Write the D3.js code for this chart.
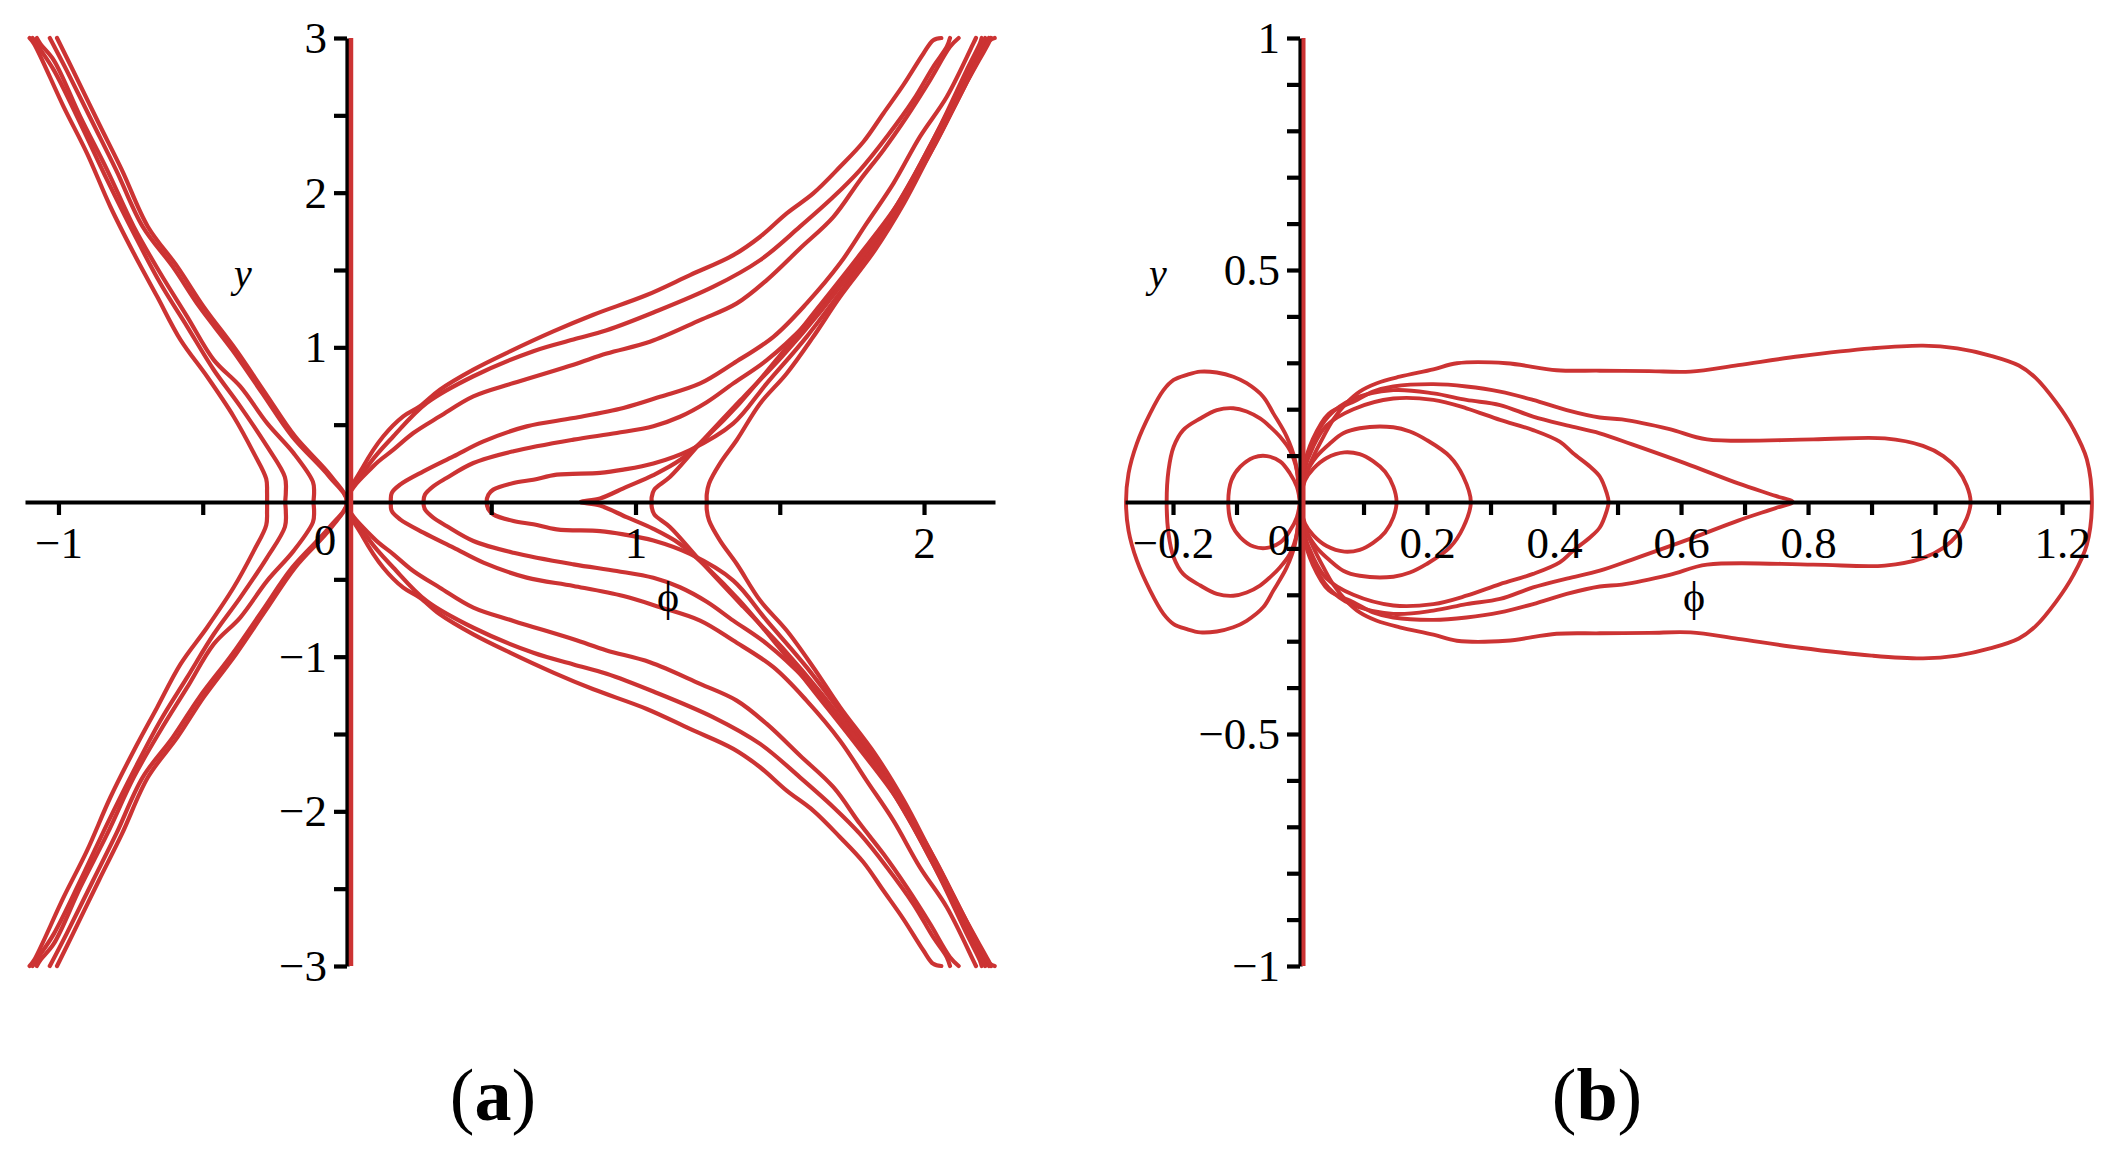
<!DOCTYPE html>
<html><head><meta charset="utf-8">
<script src="https://cdn.jsdelivr.net/npm/d3@7"></script>
<style>body{margin:0;background:#fff}svg{display:block}</style>
</head><body><svg id="c" width="2118" height="1157"></svg>
<script>
// ---------- Panel (a) data: level curves, [phi, y] ----------
const aR1 = [[2.06,3.0],[2.032,2.986],[1.998,2.9],[1.928,2.695],[1.859,2.512],[1.79,2.329],[1.709,2.167],[1.616,1.995],[1.524,1.866],[1.432,1.715],[1.339,1.596],[1.189,1.467],[1.039,1.338],[0.854,1.211],[0.715,1.103],[0.565,0.974],[0.438,0.856],[0.322,0.726],[0.253,0.619],[0.195,0.554],[0.126,0.425],[0.057,0.231],[0,0],
  [0.057,-0.231],[0.126,-0.425],[0.195,-0.554],[0.253,-0.619],[0.322,-0.726],[0.438,-0.856],[0.565,-0.974],[0.715,-1.103],[0.854,-1.211],[1.039,-1.338],[1.189,-1.467],[1.339,-1.596],[1.432,-1.715],[1.524,-1.866],[1.616,-1.995],[1.709,-2.167],[1.79,-2.329],[1.859,-2.512],[1.928,-2.695],[1.998,-2.9],[2.032,-2.986],[2.06,-3.0]];
const aR2 = [[2.09,3.0],[2.079,2.943],[2.032,2.814],[1.963,2.599],[1.871,2.361],[1.778,2.146],[1.686,1.973],[1.57,1.78],[1.432,1.564],[1.27,1.392],[1.062,1.225],[0.9,1.11],[0.785,1.05],[0.646,0.975],[0.438,0.813],[0.276,0.64],[0.161,0.425],[0.08,0.252],[0,0],
  [0.08,-0.252],[0.161,-0.425],[0.276,-0.64],[0.438,-0.813],[0.646,-0.975],[0.785,-1.05],[0.9,-1.11],[1.062,-1.225],[1.27,-1.392],[1.432,-1.564],[1.57,-1.78],[1.686,-1.973],[1.778,-2.146],[1.871,-2.361],[1.963,-2.599],[2.032,-2.814],[2.079,-2.943],[2.09,-3.0]];
const aR3 = [[2.12,3.0],[2.09,2.943],[2.021,2.728],[1.94,2.491],[1.859,2.275],[1.778,2.081],[1.686,1.844],[1.57,1.639],[1.455,1.435],[1.351,1.284],[1.224,1.176],[1.05,1.036],[0.9,0.96],[0.785,0.888],[0.577,0.769],[0.438,0.683],[0.322,0.554],[0.23,0.446],[0.161,0.338],[0.091,0.231],[0,0],
  [0.091,-0.231],[0.161,-0.338],[0.23,-0.446],[0.322,-0.554],[0.438,-0.683],[0.577,-0.769],[0.785,-0.888],[0.9,-0.96],[1.05,-1.036],[1.224,-1.176],[1.351,-1.284],[1.455,-1.435],[1.57,-1.639],[1.686,-1.844],[1.778,-2.081],[1.859,-2.275],[1.94,-2.491],[2.021,-2.728],[2.09,-2.943],[2.12,-3.0]];
const aR4 = [[2.18,3.0],[2.171,2.965],[2.079,2.62],[1.986,2.362],[1.894,2.06],[1.801,1.801],[1.709,1.543],[1.593,1.284],[1.478,1.068],[1.339,0.896],[1.224,0.767],[1.085,0.68],[0.958,0.608],[0.785,0.543],[0.623,0.489],[0.473,0.392],[0.369,0.295],[0.265,0.198],[0.184,0.112],[0.155,0.058],[0.152,0],
  [0.155,-0.058],[0.184,-0.112],[0.265,-0.198],[0.369,-0.295],[0.473,-0.392],[0.623,-0.489],[0.785,-0.543],[0.958,-0.608],[1.085,-0.68],[1.224,-0.767],[1.339,-0.896],[1.478,-1.068],[1.593,-1.284],[1.709,-1.543],[1.801,-1.801],[1.894,-2.06],[1.986,-2.362],[2.079,-2.62],[2.171,-2.965],[2.18,-3.0]];
const aR5 = [[2.2,3.0],[2.194,2.965],[2.148,2.792],[2.055,2.426],[1.963,2.103],[1.859,1.78],[1.732,1.456],[1.593,1.154],[1.455,0.917],[1.339,0.767],[1.247,0.645],[1.154,0.551],[1.062,0.49],[0.935,0.446],[0.785,0.403],[0.577,0.328],[0.438,0.252],[0.345,0.155],[0.299,0.101],[0.27,0.047],[0.265,0],
  [0.27,-0.047],[0.299,-0.101],[0.345,-0.155],[0.438,-0.252],[0.577,-0.328],[0.785,-0.403],[0.935,-0.446],[1.062,-0.49],[1.154,-0.551],[1.247,-0.645],[1.339,-0.767],[1.455,-0.917],[1.593,-1.154],[1.732,-1.456],[1.859,-1.78],[1.963,-2.103],[2.055,-2.426],[2.148,-2.792],[2.194,-2.965],[2.2,-3.0]];
const aR6 = [[2.212,3.0],[2.206,2.965],[2.171,2.836],[2.079,2.491],[1.986,2.146],[1.871,1.78],[1.732,1.413],[1.593,1.068],[1.455,0.767],[1.339,0.508],[1.189,0.336],[1.062,0.249],[0.958,0.209],[0.877,0.188],[0.727,0.177],[0.646,0.144],[0.577,0.123],[0.507,0.08],[0.49,0.047],[0.484,0],
  [0.49,-0.047],[0.507,-0.08],[0.577,-0.123],[0.646,-0.144],[0.727,-0.177],[0.877,-0.188],[0.958,-0.209],[1.062,-0.249],[1.189,-0.336],[1.339,-0.508],[1.455,-0.767],[1.593,-1.068],[1.732,-1.413],[1.871,-1.78],[1.986,-2.146],[2.079,-2.491],[2.171,-2.836],[2.206,-2.965],[2.212,-3.0]];
const aR7 = [[2.225,3.0],[2.217,2.965],[2.13,2.685],[2.025,2.318],[1.91,1.93],[1.772,1.586],[1.635,1.262],[1.497,0.939],[1.36,0.637],[1.247,0.422],[1.154,0.271],[1.062,0.174],[0.969,0.098],[0.877,0.023],[0.81,0],
  [0.877,-0.023],[0.969,-0.098],[1.062,-0.174],[1.154,-0.271],[1.247,-0.422],[1.36,-0.637],[1.497,-0.939],[1.635,-1.262],[1.772,-1.586],[1.91,-1.93],[2.025,-2.318],[2.13,-2.685],[2.217,-2.965],[2.225,-3.0]];
const aR8 = [[2.232,3.0],[2.223,2.965],[2.14,2.685],[2.04,2.318],[1.925,1.952],[1.786,1.586],[1.645,1.241],[1.507,0.939],[1.375,0.68],[1.224,0.379],[1.12,0.163],[1.065,0.08],[1.056,0.03],[1.056,0],
  [1.056,-0.03],[1.065,-0.08],[1.12,-0.163],[1.224,-0.379],[1.375,-0.68],[1.507,-0.939],[1.645,-1.241],[1.786,-1.586],[1.925,-1.952],[2.04,-2.318],[2.14,-2.685],[2.223,-2.965],[2.232,-3.0]];
const aR9 = [[2.245,3.0],[2.229,2.986],[2.194,2.879],[2.105,2.555],[2.015,2.232],[1.93,1.93],[1.83,1.629],[1.709,1.327],[1.616,1.068],[1.524,0.831],[1.432,0.637],[1.351,0.401],[1.293,0.25],[1.255,0.12],[1.247,0.05],[1.247,0],
  [1.247,-0.05],[1.255,-0.12],[1.293,-0.25],[1.351,-0.401],[1.432,-0.637],[1.524,-0.831],[1.616,-1.068],[1.709,-1.327],[1.83,-1.629],[1.93,-1.93],[2.015,-2.232],[2.105,-2.555],[2.194,-2.879],[2.229,-2.986],[2.245,-3.0]];
const aLV1 = [[-1.1,3.0],[-1.085,2.964],[-0.982,2.555],[-0.901,2.254],[-0.82,1.909],[-0.739,1.608],[-0.658,1.328],[-0.577,1.048],[-0.485,0.811],[-0.393,0.553],[-0.323,0.316],[-0.28,0.15],[-0.277,0.06],[-0.277,0],
  [-0.277,-0.06],[-0.28,-0.15],[-0.323,-0.316],[-0.393,-0.553],[-0.485,-0.811],[-0.577,-1.048],[-0.658,-1.328],[-0.739,-1.608],[-0.82,-1.909],[-0.901,-2.254],[-0.982,-2.555],[-1.085,-2.964],[-1.1,-3.0]];
const aLV2 = [[-1.09,3.0],[-1.074,2.955],[-1.016,2.792],[-0.924,2.447],[-0.831,2.081],[-0.739,1.737],[-0.647,1.414],[-0.554,1.134],[-0.462,0.855],[-0.37,0.618],[-0.277,0.359],[-0.215,0.16],[-0.212,0.06],[-0.214,0],
  [-0.212,-0.06],[-0.215,-0.16],[-0.277,-0.359],[-0.37,-0.618],[-0.462,-0.855],[-0.554,-1.134],[-0.647,-1.414],[-0.739,-1.737],[-0.831,-2.081],[-0.924,-2.447],[-1.016,-2.792],[-1.074,-2.955],[-1.09,-3.0]];
const aLV3 = [[-1.075,3.0],[-1.062,2.96],[-1.016,2.856],[-0.924,2.49],[-0.831,2.146],[-0.739,1.78],[-0.647,1.479],[-0.554,1.199],[-0.462,0.919],[-0.37,0.747],[-0.277,0.51],[-0.185,0.316],[-0.118,0.13],[-0.114,0.06],[-0.116,0],
  [-0.114,-0.06],[-0.118,-0.13],[-0.185,-0.316],[-0.277,-0.51],[-0.37,-0.747],[-0.462,-0.919],[-0.554,-1.199],[-0.647,-1.479],[-0.739,-1.78],[-0.831,-2.146],[-0.924,-2.49],[-1.016,-2.856],[-1.062,-2.96],[-1.075,-3.0]];
const aL0a = [[-1.005,3.0],[-0.95,2.792],[-0.86,2.447],[-0.78,2.146],[-0.69,1.78],[-0.588,1.522],[-0.497,1.263],[-0.385,0.984],[-0.283,0.704],[-0.18,0.424],[-0.055,0.166],[0,0],
  [-0.055,-0.166],[-0.18,-0.424],[-0.283,-0.704],[-0.385,-0.984],[-0.497,-1.263],[-0.588,-1.522],[-0.69,-1.78],[-0.78,-2.146],[-0.86,-2.447],[-0.95,-2.792],[-1.005,-3.0]];
const aL0b = [[-1.03,3.0],[-0.972,2.792],[-0.88,2.447],[-0.8,2.146],[-0.708,1.78],[-0.604,1.522],[-0.512,1.263],[-0.398,0.984],[-0.294,0.704],[-0.19,0.424],[-0.062,0.166],[0,0],
  [-0.062,-0.166],[-0.19,-0.424],[-0.294,-0.704],[-0.398,-0.984],[-0.512,-1.263],[-0.604,-1.522],[-0.708,-1.78],[-0.8,-2.146],[-0.88,-2.447],[-0.972,-2.792],[-1.03,-3.0]];

// ---------- Panel (b) data ----------
const bL1 = [[0,0],[-0.005,0.033],[-0.016,0.062],[-0.031,0.087],[-0.052,0.099],[-0.073,0.096],[-0.094,0.076],[-0.108,0.047],[-0.113,0],[-0.108,-0.047],[-0.094,-0.076],[-0.073,-0.096],[-0.052,-0.099],[-0.031,-0.087],[-0.016,-0.062],[-0.005,-0.033],[0,0]];
const bL2 = [[0,0],[-0.005,0.069],[-0.016,0.112],[-0.031,0.14],[-0.047,0.162],[-0.063,0.18],[-0.084,0.195],[-0.105,0.202],[-0.131,0.198],[-0.157,0.18],[-0.184,0.155],[-0.199,0.119],[-0.207,0.069],[-0.21,0],[-0.207,-0.069],[-0.199,-0.119],[-0.184,-0.155],[-0.157,-0.18],[-0.131,-0.198],[-0.105,-0.202],[-0.084,-0.195],[-0.063,-0.18],[-0.047,-0.162],[-0.031,-0.14],[-0.016,-0.112],[-0.005,-0.069],[0,0]];
const bL3 = [[0,0],[-0.008,0.091],[-0.021,0.141],[-0.042,0.191],[-0.058,0.227],[-0.084,0.256],[-0.105,0.27],[-0.131,0.279],[-0.157,0.281],[-0.178,0.274],[-0.199,0.263],[-0.215,0.241],[-0.236,0.191],[-0.257,0.126],[-0.27,0.062],[-0.274,0],[-0.27,-0.062],[-0.257,-0.126],[-0.236,-0.191],[-0.215,-0.241],[-0.199,-0.263],[-0.178,-0.274],[-0.157,-0.281],[-0.131,-0.279],[-0.105,-0.27],[-0.084,-0.256],[-0.058,-0.227],[-0.042,-0.191],[-0.021,-0.141],[-0.008,-0.091],[0,0]];
const bR1 = [[0,0],[0.008,0.047],[0.021,0.072],[0.042,0.095],[0.07,0.107],[0.094,0.103],[0.115,0.088],[0.134,0.065],[0.147,0.033],[0.152,0],[0.147,-0.033],[0.134,-0.065],[0.115,-0.088],[0.094,-0.103],[0.07,-0.107],[0.042,-0.095],[0.021,-0.072],[0.008,-0.047],[0,0]];
const bR2 = [[0,0],[0.01,0.062],[0.026,0.098],[0.047,0.126],[0.068,0.148],[0.094,0.159],[0.147,0.161],[0.173,0.152],[0.199,0.134],[0.236,0.098],[0.257,0.055],[0.269,0],[0.257,-0.055],[0.236,-0.098],[0.199,-0.134],[0.173,-0.152],[0.147,-0.161],[0.094,-0.159],[0.068,-0.148],[0.047,-0.126],[0.026,-0.098],[0.01,-0.062],[0,0]];
const bR3 = [[0,0],[0.005,0.06],[0.021,0.12],[0.042,0.165],[0.084,0.2],[0.147,0.223],[0.21,0.22],[0.262,0.202],[0.315,0.177],[0.367,0.155],[0.409,0.13],[0.43,0.105],[0.457,0.076],[0.472,0.055],[0.483,0.019],[0.486,0],[0.483,-0.019],[0.472,-0.055],[0.457,-0.076],[0.43,-0.105],[0.409,-0.13],[0.367,-0.155],[0.315,-0.177],[0.262,-0.202],[0.21,-0.22],[0.147,-0.223],[0.084,-0.2],[0.042,-0.165],[0.021,-0.12],[0.005,-0.06],[0,0]];
const bR4 = [[0,0],[0.005,0.065],[0.02,0.13],[0.045,0.185],[0.08,0.22],[0.147,0.241],[0.21,0.234],[0.262,0.22],[0.315,0.209],[0.367,0.184],[0.42,0.165],[0.472,0.148],[0.523,0.124],[0.615,0.079],[0.69,0.04],[0.749,0.013],[0.776,0],[0.749,-0.013],[0.69,-0.04],[0.615,-0.079],[0.523,-0.124],[0.472,-0.148],[0.42,-0.165],[0.367,-0.184],[0.315,-0.209],[0.262,-0.22],[0.21,-0.234],[0.147,-0.241],[0.08,-0.22],[0.045,-0.185],[0.02,-0.13],[0.005,-0.065],[0,0]];
const bR5 = [[0,0],[0.005,0.07],[0.02,0.135],[0.045,0.19],[0.084,0.216],[0.115,0.238],[0.147,0.249],[0.21,0.254],[0.262,0.249],[0.315,0.238],[0.367,0.22],[0.42,0.198],[0.472,0.182],[0.507,0.178],[0.582,0.157],[0.641,0.135],[0.808,0.135],[0.921,0.137],[0.981,0.121],[1.013,0.099],[1.035,0.071],[1.05,0.035],[1.056,0],[1.05,-0.035],[1.035,-0.071],[1.013,-0.099],[0.981,-0.121],[0.921,-0.137],[0.808,-0.135],[0.641,-0.135],[0.582,-0.157],[0.507,-0.178],[0.472,-0.182],[0.42,-0.198],[0.367,-0.22],[0.315,-0.238],[0.262,-0.249],[0.21,-0.254],[0.147,-0.249],[0.115,-0.238],[0.084,-0.216],[0.045,-0.19],[0.02,-0.135],[0.005,-0.07],[0,0]];
const bR6 = [[0,0],[0.008,0.055],[0.021,0.098],[0.037,0.141],[0.052,0.177],[0.073,0.213],[0.094,0.238],[0.121,0.256],[0.157,0.27],[0.21,0.286],[0.247,0.299],[0.325,0.299],[0.404,0.284],[0.472,0.283],[0.55,0.282],[0.615,0.281],[0.69,0.295],[0.787,0.314],[0.9,0.331],[0.981,0.337],[1.035,0.331],[1.088,0.315],[1.132,0.294],[1.158,0.268],[1.191,0.214],[1.218,0.157],[1.239,0.092],[1.247,0],[1.239,-0.092],[1.218,-0.157],[1.191,-0.214],[1.158,-0.268],[1.132,-0.294],[1.088,-0.315],[1.035,-0.331],[0.981,-0.337],[0.9,-0.331],[0.787,-0.314],[0.69,-0.295],[0.615,-0.281],[0.55,-0.282],[0.472,-0.283],[0.404,-0.284],[0.325,-0.299],[0.247,-0.299],[0.21,-0.286],[0.157,-0.27],[0.121,-0.256],[0.094,-0.238],[0.073,-0.213],[0.052,-0.177],[0.037,-0.141],[0.021,-0.098],[0.008,-0.055],[0,0]];

// ---------- Ticks ----------
const aXTicks = [-1,-0.5,0.5,1,1.5,2];
const aXLabels = ["\u22121","","","1","","2"];
const aYTicks = [-3,-2.5,-2,-1.5,-1,-0.5,0.5,1,1.5,2,2.5,3];
const aYLabels = ["\u22123","","\u22122","","\u22121","","","1","","2","","3"];
const bXTicks = [-0.2,-0.1,0.1,0.2,0.3,0.4,0.5,0.6,0.7,0.8,0.9,1.0,1.1,1.2];
const bXLabels = ["\u22120.2","","","0.2","","0.4","","0.6","","0.8","","1.0","","1.2"];
const bYTicks = [-1,-0.9,-0.8,-0.7,-0.6,-0.5,-0.4,-0.3,-0.2,-0.1,0.1,0.2,0.3,0.4,0.5,0.6,0.7,0.8,0.9,1];
const bYLabels = ["\u22121","","","","","\u22120.5","","","","","","","","","0.5","","","","","1"];

const svg = d3.select("#c");
const RED = "#cc3333";
const FONT = '"Liberation Serif","DejaVu Serif","Times New Roman",serif';
const TICK_FS = 45;

function panel(cfg) {
  const {x, y, curves, id, xTicks, xLabels, yTicks, yLabels, sw, zeroDx, yLab, phiLab, redDx, redW} = cfg;
  const g = svg.append("g");
  const [x0, x1] = x.range(), [yb, yt] = y.range();
  g.append("clipPath").attr("id", id).append("rect")
    .attr("x", x0 - 4).attr("y", yt - 3).attr("width", x1 - x0 + 8).attr("height", yb - yt + 6);
  const line = d3.line().x(d => x(d[0])).y(d => y(d[1])).curve(d3.curveCatmullRom.alpha(0.5));
  g.append("g").attr("clip-path", `url(#${id})`)
    .selectAll("path").data(curves).join("path")
    .attr("d", line).attr("fill", "none").attr("stroke", RED)
    .attr("stroke-width", sw).attr("stroke-linejoin", "round").attr("stroke-linecap", "round");

  const ax = g.append("g").attr("transform", `translate(0,${y(0)})`)
    .call(d3.axisBottom(x).tickValues(xTicks).tickFormat((d, i) => xLabels[i]).tickSize(13).tickSizeOuter(0).tickPadding(11));
  const ay = g.append("g").attr("transform", `translate(${x(0)},0)`)
    .call(d3.axisLeft(y).tickValues(yTicks).tickFormat((d, i) => yLabels[i]).tickSize(13).tickSizeOuter(0).tickPadding(7));
  [ax, ay].forEach(a => {
    a.attr("font-family", FONT).attr("font-size", TICK_FS);
    a.select(".domain").attr("stroke", "#000").attr("stroke-width", 4.2);
    a.selectAll(".tick line").attr("stroke", "#000").attr("stroke-width", 4.2);
    a.selectAll(".tick text").attr("fill", "#000");
  });
  // red contour along phi = 0
  g.append("line").attr("x1", x(0) + redDx).attr("x2", x(0) + redDx)
    .attr("y1", yt).attr("y2", yb).attr("stroke", RED).attr("stroke-width", redW);
  // zero label
  g.append("text").attr("x", x(0) - zeroDx).attr("y", y(0) + 21).attr("dy", "0.71em")
    .attr("text-anchor", "middle").attr("font-family", FONT).attr("font-size", TICK_FS).text("0");
  // axis names
  g.append("text").attr("x", yLab[0]).attr("y", yLab[1]).attr("text-anchor", "middle")
    .attr("font-family", FONT).attr("font-style", "italic").attr("font-size", 40).text("y");
  g.append("text").attr("x", phiLab[0]).attr("y", phiLab[1]).attr("text-anchor", "middle")
    .attr("font-family", FONT).attr("font-size", 42).text("\u03D5");
}

const xA = d3.scaleLinear().domain([-1.116, 2.246]).range([25, 995]);
const yA = d3.scaleLinear().domain([-3, 3]).range([966, 38]);
panel({x: xA, y: yA, id: "clipA", sw: 4.2,
  curves: [aR1, aR2, aR3, aR4, aR5, aR6, aR7, aR8, aR9, aLV1, aLV2, aLV3, aL0a, aL0b],
  xTicks: aXTicks, xLabels: aXLabels, yTicks: aYTicks, yLabels: aYLabels,
  zeroDx: 22, yLab: [243, 287], phiLab: [668, 611], redDx: 4, redW: 4.5});

const xB = d3.scaleLinear().domain([-0.2756, 1.244]).range([1125, 2090]);
const yB = d3.scaleLinear().domain([-1, 1]).range([966, 38]);
panel({x: xB, y: yB, id: "clipB", sw: 3.9,
  curves: [bL1, bL2, bL3, bR1, bR2, bR3, bR4, bR5, bR6],
  xTicks: bXTicks, xLabels: bXLabels, yTicks: bYTicks, yLabels: bYLabels,
  zeroDx: 21, yLab: [1158, 287], phiLab: [1694, 611], redDx: 3.5, redW: 4});

// captions
[["a", 493], ["b", 1597]].forEach(([t, cx]) => {
  const tx = svg.append("text").attr("x", cx).attr("y", 1120).attr("text-anchor", "middle")
    .attr("font-family", FONT).attr("font-size", 74);
  tx.append("tspan").text("(");
  tx.append("tspan").attr("font-weight", "bold").text(t);
  tx.append("tspan").text(")");
});
</script></body></html>
